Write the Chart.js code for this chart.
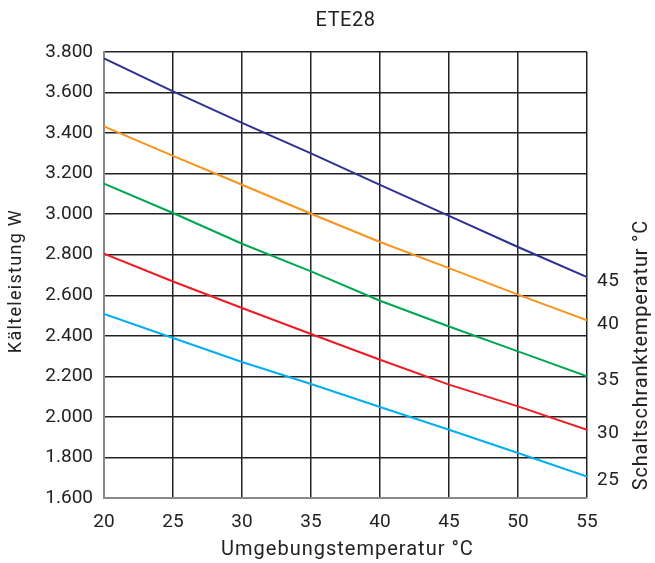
<!DOCTYPE html>
<html>
<head>
<meta charset="utf-8">
<script src="https://cdn.jsdelivr.net/npm/chart.js@4.4.0/dist/chart.umd.min.js"></script>
<style>
html,body{margin:0;padding:0;background:#fff;}
#wrap{width:655px;height:563px;position:relative;}
</style>
</head>
<body>
<div id="wrap"><canvas id="c" width="655" height="563"></canvas></div>
<script>
const chartTitle = "ETE28";
const xTitle = "Umgebungstemperatur °C";
const yTitle = "Kälteleistung W";
const y2Title = "Schaltschranktemperatur °C";
const xValues = [20, 25, 30, 35, 40, 45, 50, 55];
const seriesLabels = ["45", "40", "35", "30", "25"];
const s45 = [3768, 3606, 3450, 3300, 3145, 2992, 2838, 2690];
const s40 = [3433, 3288, 3145, 3002, 2863, 2734, 2603, 2476];
const s35 = [3150, 3006, 2854, 2718, 2573, 2446, 2323, 2200];
const s30 = [2805, 2668, 2537, 2409, 2282, 2159, 2052, 1937];
const s25 = [2508, 2389, 2271, 2162, 2049, 1937, 1822, 1706];
const seriesColors = ["#2e3192", "#f7941d", "#00a651", "#ed1c24", "#00aeef"];

const FONT = "Roboto, 'DejaVu Sans', sans-serif";
const TXT = "#222";
const allSeries = [s45, s40, s35, s30, s25];

function fmt(v){
  return String(Math.round(v)).replace(/\B(?=(\d{3})+(?!\d))/g, ".");
}

const extraText = {
  id: 'extraText',
  afterDraw(chart){
    const ctx = chart.ctx;
    const a = chart.chartArea;
    ctx.save();
    ctx.fillStyle = TXT;
    ctx.textBaseline = "middle";
    ctx.textAlign = "center";
    // chart title
    ctx.font = "20px " + FONT;
    ctx.letterSpacing = "0.5px";
    ctx.fillText(chartTitle, (a.left + a.right) / 2, 21);
    // x title
    ctx.letterSpacing = "1px";
    ctx.fillText(xTitle, (a.left + a.right) / 2 + 2, 550);
    // series end labels
    ctx.font = "19px " + FONT;
    ctx.letterSpacing = "0.5px";
    ctx.textAlign = "left";
    chart.data.datasets.forEach((ds, i) => {
      const meta = chart.getDatasetMeta(i);
      const pt = meta.data[meta.data.length - 1];
      ctx.fillText(ds.label, a.right + 10, pt.y + 4);
    });
    ctx.textAlign = "center";
    // left title
    ctx.save();
    ctx.translate(16, 281);
    ctx.rotate(-Math.PI / 2);
    ctx.font = "18px " + FONT;
    ctx.letterSpacing = "1.3px";
    ctx.fillText(yTitle, 0, 0);
    ctx.restore();
    // right title
    ctx.save();
    ctx.translate(642, 355);
    ctx.rotate(-Math.PI / 2);
    ctx.font = "20px " + FONT;
    ctx.letterSpacing = "0.8px";
    ctx.fillText(y2Title, 0, 0);
    ctx.restore();
    ctx.restore();
  }
};

new Chart(document.getElementById('c'), {
  type: 'line',
  data: {
    datasets: allSeries.map((s, i) => ({
      label: seriesLabels[i],
      data: s.map((v, j) => ({x: xValues[j], y: v})),
      borderColor: seriesColors[i],
      backgroundColor: seriesColors[i],
      borderWidth: 2,
      pointRadius: 0,
      tension: 0,
      fill: false
    }))
  },
  options: {
    responsive: false,
    animation: false,
    layout: {padding: {top: 52, right: 68, left: 0, bottom: 0}},
    plugins: {legend: {display: false}, tooltip: {enabled: false}, title: {display: false}},
    scales: {
      x: {
        type: 'linear', min: 20, max: 55,
        ticks: {stepSize: 5, color: TXT, font: {family: FONT, size: 19}, padding: 13},
        grid: {color: "#222", lineWidth: 1.5, drawTicks: false},
        border: {color: "#888", width: 2},
        title: {display: false},
        afterFit(scale){ scale.height = 65; }
      },
      y: {
        min: 1600, max: 3800,
        ticks: {stepSize: 200, color: TXT, font: {family: FONT, size: 19}, padding: 11, callback: v => fmt(v)},
        grid: {color: "#222", lineWidth: 1.5, drawTicks: false},
        border: {color: "#888", width: 2},
        title: {display: false},
        afterFit(scale){ scale.width = 104; }
      }
    }
  },
  plugins: [extraText]
});
</script>
</body>
</html>
